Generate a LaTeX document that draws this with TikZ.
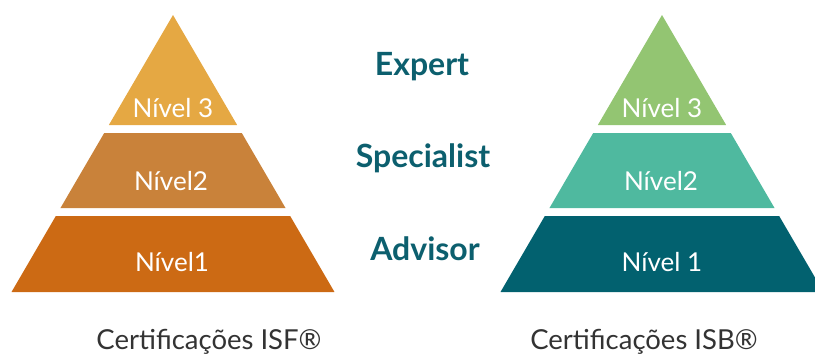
\documentclass[tikz,border=0pt]{standalone}
\usepackage{fontspec}
\setmainfont{Lato}
\definecolor{lA}{HTML}{E5A843}
\definecolor{lB}{HTML}{C9823A}
\definecolor{lC}{HTML}{CC6A14}
\definecolor{rA}{HTML}{93C572}
\definecolor{rB}{HTML}{4FB99F}
\definecolor{rC}{HTML}{02616F}
\definecolor{teal}{HTML}{0C5F6E}
\definecolor{graytxt}{HTML}{333333}
\tikzset{
  tierlabel/.style={text=white, font=\fontsize{26}{30}\selectfont, anchor=base, inner sep=0pt},
  levellabel/.style={text=teal, font=\fontsize{32}{36}\selectfont\bfseries, anchor=base, inner sep=0pt},
  certlabel/.style={text=graytxt, font=\fontsize{27.5}{32}\selectfont, anchor=base, inner sep=0pt}
}
\newcommand{\hw}[1]{0.583*(#1-15)}
\newcommand{\tier}[4]{% center x, top y, bottom y, color
  \fill[#4] ({#1-\hw{#2}},#2) -- ({#1+\hw{#2}},#2) -- ({#1+\hw{#3}},#3) -- ({#1-\hw{#3}},#3) -- cycle;}
\begin{document}
\begin{tikzpicture}[x=1pt,y=-1pt]
\useasboundingbox (0,0) rectangle (815,356);
\clip (0,0) rectangle (815,356);
% left pyramid
\fill[lA] (173,15) -- ({173+\hw{125}},125) -- ({173-\hw{125}},125) -- cycle;
\tier{173}{133}{208}{lB}
\tier{173}{216}{292}{lC}
% right pyramid
\fill[rA] (662,15) -- ({662+\hw{125}},125) -- ({662-\hw{125}},125) -- cycle;
\tier{662}{133}{208}{rB}
\tier{662}{216}{292}{rC}
% tier labels
\node[tierlabel] (l3) at (173,117) {Nível 3};
\node[tierlabel] (l2) at (171,190.5) {Nível2};
\node[tierlabel] (l1) at (172,271) {Nível1};
\node[tierlabel] (r3) at (662,117) {Nível 3};
\node[tierlabel] (r2) at (661,190.5) {Nível2};
\node[tierlabel] (r1) at (662,271) {Nível 1};
% level names
\node[levellabel] (expert) at (422,75.5) {Expert};
\node[levellabel] (spec) at (423,167) {Specialist};
\node[levellabel] (adv) at (425,260) {Advisor};
% certification labels
\node[certlabel] (isf) at (209,349.5) {Certificações ISF®};
\node[certlabel] (isb) at (644,349.5) {Certificações ISB®};
\end{tikzpicture}
\end{document}
